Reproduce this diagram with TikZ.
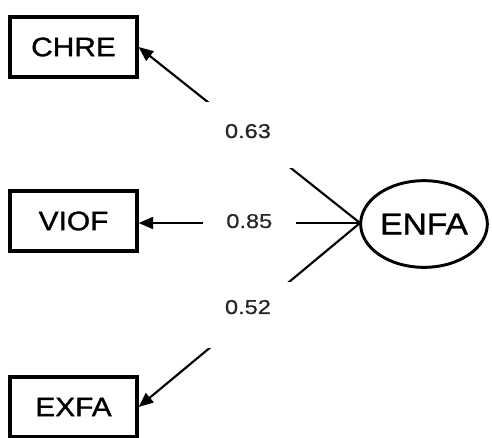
\documentclass[tikz,border=0pt]{standalone}
\usepackage{fontspec}
\setmainfont[FakeStretch=1.12,FakeBold=1.2]{Liberation Sans}
\newfontfamily\coeffont[FakeStretch=1.18,FakeBold=0.6]{Liberation Sans}
\usetikzlibrary{arrows.meta,shapes.geometric}
\begin{document}
\begin{tikzpicture}[x=0.75pt,y=-0.75pt,
  obs/.style={draw,line width=2.6pt,minimum width=95pt,minimum height=45pt,inner sep=0pt,font=\fontsize{20}{24}\selectfont},
  lat/.style={draw,ellipse,line width=2.2pt,minimum width=95pt,minimum height=65pt,inner sep=0pt,font=\fontsize{22.5}{26}\selectfont},
  pathline/.style={line width=1.6pt,-{Triangle[length=11pt,width=9pt]}},
  coef/.style={fill=white,minimum width=70pt,minimum height=50pt,inner sep=0pt,text=black!85,font=\coeffont\fontsize{15}{18}\selectfont}]
\useasboundingbox (0,0) rectangle (492,437);
\node[obs] (chre) at (73.5,47) {CHRE};
\node[obs] (viof) at (73.5,221) {VIOF};
\node[obs] (exfa) at (73.5,407) {EXFA};
\node[lat] (enfa) at (424,224) {ENFA};
\coordinate (src) at (360,223);
\draw[pathline] (src) -- (chre.east) node[coef,pos=0.5]{\raisebox{6pt}{0.63}\hspace*{2pt}};
\draw[pathline] (src) -- (viof.east |- src) node[coef,pos=0.5]{\raisebox{3pt}{0.85}};
\draw[pathline] (src) -- (exfa.east) node[coef,pos=0.5]{\raisebox{12pt}{0.52}\hspace*{2pt}};
\end{tikzpicture}
\end{document}
